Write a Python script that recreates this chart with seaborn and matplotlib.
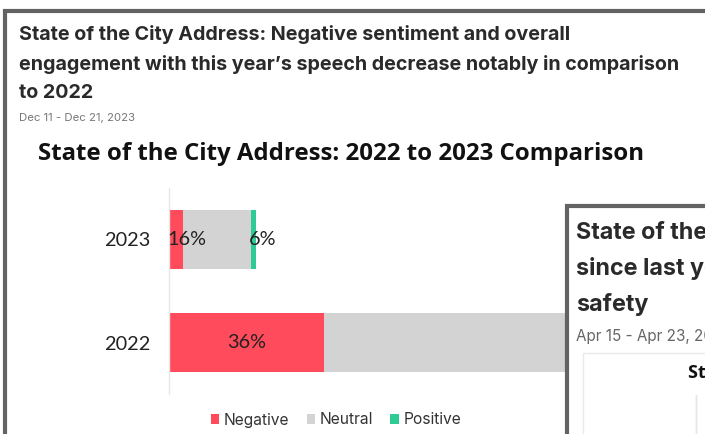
import matplotlib
matplotlib.use("Agg")
import matplotlib.pyplot as plt
import seaborn as sns
import pandas as pd
from matplotlib.patches import Rectangle, Patch

# ---- data ----
years = ["2023", "2022"]
negative = [14, 155]
neutral = [68, 250]
positive = [5, 25]
series_names = ["Negative", "Neutral", "Positive"]
colors = {"Negative": "#FF4B5C", "Neutral": "#D3D3D3", "Positive": "#2ECC94"}

header_lines = ["State of the City Address: Negative sentiment and overall",
                "engagement with this year\u2019s speech decrease notably in comparison",
                "to 2022"]
header_date = "Dec 11 - Dec 21, 2023"
chart_title = "State of the City Address: 2022 to 2023 Comparison"
card2_lines = ["State of the City Address: sentiment shifts",
               "since last year's speech, with focus on public",
               "safety"]
card2_date = "Apr 15 - Apr 23, 2024"
card2_chart_title = "State of the City Address"

W, H = 705, 434
sns.set_theme(style="white")
plt.rcParams["font.family"] = ["Lato", "DejaVu Sans"]

fig = plt.figure(figsize=(W / 100, H / 100), dpi=100)
fig.patch.set_facecolor("white")

def fx(px):
    return px / W

def fy(py):
    return 1 - py / H

# ---- chart axes ----
ax_l, ax_r, ax_t, ax_b = 169, 690, 188, 394
ax = fig.add_axes([fx(ax_l), fy(ax_b), fx(ax_r) - fx(ax_l), fy(ax_t) - fy(ax_b)])

df = pd.DataFrame({"year": years, "Negative": negative, "Neutral": neutral, "Positive": positive})
df["c_neg"] = df["Negative"]
df["c_neu"] = df["Negative"] + df["Neutral"]
df["c_pos"] = df["c_neu"] + df["Positive"]
df["total"] = df["c_pos"]

bw = 0.573
sns.barplot(data=df, x="c_pos", y="year", order=years, orient="h", color=colors["Positive"],
            width=bw, saturation=1, ax=ax, linewidth=0)
sns.barplot(data=df, x="c_neu", y="year", order=years, orient="h", color=colors["Neutral"],
            width=bw, saturation=1, ax=ax, linewidth=0)
sns.barplot(data=df, x="c_neg", y="year", order=years, orient="h", color=colors["Negative"],
            width=bw, saturation=1, ax=ax, linewidth=0)

ax.set_xlim(0, ax_r - ax_l)
ax.set_ylim(1.5, -0.5)
ax.set_xlabel("")
ax.set_ylabel("")
ax.set_xticks([])
for s in ["top", "right", "bottom"]:
    ax.spines[s].set_visible(False)
ax.spines["left"].set_color("#E6E6E6")
ax.spines["left"].set_linewidth(1.0)
ax.tick_params(axis="y", length=0, pad=13.5, labelsize=14.3, labelcolor="#222222")

# segment labels (negative and positive shares)
for i, row in df.iterrows():
    tot = row["total"]
    for name, start, val in [("Negative", 0, row["Negative"]),
                             ("Positive", row["c_neu"], row["Positive"])]:
        pct = f"{round(100 * val / tot):.0f}%"
        if val > 45:
            ax.text(start + val / 2, i, pct, ha="center", va="center", fontsize=14.3, color="#222222")
        else:
            ax.text(start - 2, i, pct, ha="left", va="center", fontsize=14.3, color="#222222")

# ---- outer card ----
fig.add_artist(Rectangle((fx(5), fy(440)), fx(720), fy(11) - fy(440), transform=fig.transFigure,
                         facecolor="none", edgecolor="#636363", linewidth=3.0, zorder=0))

for k, line in enumerate(header_lines):
    fig.text(fx(19), fy(35 + 29 * k), line, ha="left", va="center", fontsize=14.2,
             fontweight="bold", color="#2A2A2A", family=["Inter", "DejaVu Sans"])
fig.text(fx(19), fy(117.5), header_date, ha="left", va="center", fontsize=8.2,
         color="#777777", family=["Inter", "DejaVu Sans"])
fig.text(fx(38), fy(154), chart_title, ha="left", va="center", fontsize=17.3,
         fontweight="bold", color="#111111", family=["Open Sans", "DejaVu Sans"])

# legend
handles = [Patch(facecolor=colors[n], edgecolor="none", label=n) for n in series_names]
leg = fig.legend(handles=handles, loc="center", bbox_to_anchor=(fx(336), fy(420)), ncol=3,
                 frameon=False, handlelength=0.55, handleheight=0.55, handletextpad=0.3,
                 columnspacing=1.1, prop={"family": ["Inter", "DejaVu Sans"], "size": 11.2})
for t in leg.get_texts():
    t.set_color("#333333")

# ---- overlapping second card ----
fig.add_artist(Rectangle((fx(567), fy(460)), fx(200), fy(205.5) - fy(460), transform=fig.transFigure,
                         facecolor="white", edgecolor="#636363", linewidth=3.0, zorder=10))
fig.add_artist(Rectangle((fx(582.5), fy(460)), fx(200), fy(352.5) - fy(460), transform=fig.transFigure,
                         facecolor="white", edgecolor="#EAEAEA", linewidth=1.0, zorder=11))
for k, line in enumerate(card2_lines):
    fig.text(fx(576), fy(232 + 36 * k), line, ha="left", va="center", fontsize=16.8,
             fontweight="bold", color="#2A2A2A", family=["Inter", "DejaVu Sans"], zorder=12)
fig.text(fx(576), fy(336), card2_date, ha="left", va="center", fontsize=11,
         color="#666666", family=["Inter", "DejaVu Sans"], zorder=12)
fig.text(fx(688), fy(373), card2_chart_title, ha="left", va="center", fontsize=13,
         fontweight="bold", color="#111111", family=["Open Sans", "DejaVu Sans"], zorder=12)
fig.add_artist(Rectangle((fx(696), fy(460)), fx(0.1), fy(395) - fy(460), transform=fig.transFigure,
                         facecolor="none", edgecolor="#E6E6E6", linewidth=1.0, zorder=12))

fig.savefig("out.png", dpi=100)
